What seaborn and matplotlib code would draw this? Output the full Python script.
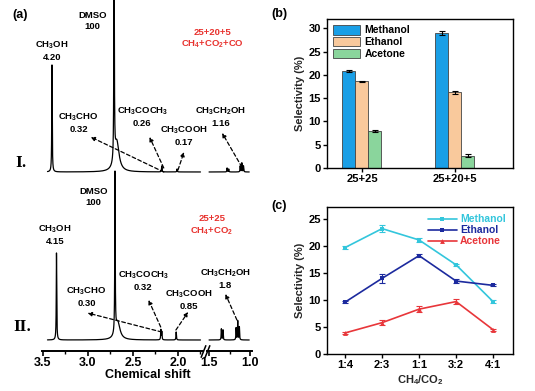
import numpy as np
import pandas as pd
import matplotlib
matplotlib.use('Agg')
import matplotlib.pyplot as plt
import seaborn as sns

# ---------------- panel (a): 1H NMR peaks ----------------
shift_ticks = [3.5, 3.0, 2.5, 2.0, 1.5, 1.0]
compounds = ['CH$_3$OH', 'CH$_3$CHO', 'CH$_3$COCH$_3$', 'CH$_3$COOH', 'CH$_3$CH$_2$OH']
integ_I = ['4.20', '0.32', '0.26', '0.17', '1.16']
integ_II = ['4.15', '0.30', '0.32', '0.85', '1.8']
gas_I = '25+20+5\nCH$_4$+CO$_2$+CO'
gas_II = '25+25\nCH$_4$+CO$_2$'

# peak position (ppm), height, half width
peaks_I_ppm = [3.40, 2.71, 2.68, 2.18, 2.01, 1.28, 1.26, 1.12, 1.10, 1.08]
peaks_I_h = [107, 260, 30, 6, 3, 4, 3, 6, 9, 6]
peaks_I_w = [0.003, 0.003, 0.03, 0.003, 0.003, 0.003, 0.003, 0.003, 0.003, 0.003]
peaks_II_ppm = [3.35, 2.70, 2.67, 2.19, 2.18, 2.02, 1.35, 1.33, 1.17, 1.15, 1.13]
peaks_II_h = [87, 160, 18, 10, 8, 8, 11, 10, 12, 19, 13]
peaks_II_w = [0.003, 0.003, 0.03, 0.003, 0.003, 0.003, 0.003, 0.003, 0.003, 0.003, 0.003]
base_I, base_II = 179, 11

# ---------------- panel (b): selectivity by feed ----------------
conditions = ['25+25', '25+20+5']
products = ['Methanol', 'Ethanol', 'Acetone']
sel_methanol = [20.8, 29.0]
sel_ethanol = [18.6, 16.3]
sel_acetone = [7.9, 2.6]
err_methanol = [0.15, 0.4]
err_ethanol = [0.12, 0.3]
err_acetone = [0.2, 0.3]

# ---------------- panel (c): selectivity vs CH4/CO2 ----------------
ratios = ['1:4', '2:3', '1:1', '3:2', '4:1']
ratio_methanol = [19.7, 23.2, 21.1, 16.5, 9.7]
ratio_ethanol = [9.6, 14.0, 18.2, 13.5, 12.7]
ratio_acetone = [3.9, 5.8, 8.3, 9.7, 4.5]
rerr_methanol = [0.3, 0.6, 0.4, 0.2, 0.2]
rerr_ethanol = [0.2, 0.8, 0.3, 0.4, 0.2]
rerr_acetone = [0.2, 0.4, 0.6, 0.5, 0.2]

sns.set_theme(style='ticks')
plt.rcParams.update({
    'font.family': ['Liberation Sans', 'DejaVu Sans'],
    'font.weight': 'bold',
    'axes.labelweight': 'bold',
    'mathtext.fontset': 'custom',
    'mathtext.rm': 'Liberation Sans:bold',
    'mathtext.it': 'Liberation Sans:bold',
    'mathtext.bf': 'Liberation Sans:bold',
    'mathtext.default': 'rm',
    'axes.edgecolor': 'black',
    'xtick.color': 'black',
    'ytick.color': 'black',
    'text.color': 'black',
})

W, H = 535, 391
fig = plt.figure(figsize=(W / 100, H / 100), dpi=100)


def box(x0, y0, x1, y1):
    return [x0 / W, 1 - y1 / H, (x1 - x0) / W, (y1 - y0) / H]


def spectrum(grid, pos, hts, wid):
    y = np.zeros_like(grid)
    for p, h, w in zip(pos, hts, wid):
        y += h * w ** 2 / ((grid - p) ** 2 + w ** 2)
    return y


# ---- (a) broken chemical shift axis ----
axL = fig.add_axes(box(42, 0, 203, 351))
axR = fig.add_axes(box(207, 0, 252, 351))
gridL = np.linspace(3.45, 1.75, 20000)
gridR = np.linspace(1.50, 1.01, 6000)
for ax, grid in [(axL, gridL), (axR, gridR)]:
    ax.plot(grid, base_I + spectrum(grid, peaks_I_ppm, peaks_I_h, peaks_I_w), color='black', lw=0.9)
    ax.plot(grid, base_II + spectrum(grid, peaks_II_ppm, peaks_II_h, peaks_II_w), color='black', lw=0.9)
    ax.set_ylim(0, 351)
    ax.set_yticks([])
    for s in ['top', 'left', 'right']:
        ax.spines[s].set_visible(False)
    ax.spines['bottom'].set_linewidth(1.4)
    ax.tick_params(axis='x', which='major', direction='out', length=3.5, width=1.2, labelsize=9, pad=0.5)
    ax.tick_params(axis='x', which='minor', direction='out', length=2, width=1)
    ax.patch.set_alpha(0)
axL.set_xlim(3.511, 1.722)
axR.set_xlim(1.525, 0.976)
axL.set_xticks([t for t in shift_ticks if t > 1.7])
axR.set_xticks([t for t in shift_ticks if t < 1.7])
axL.set_xticks(np.arange(3.5, 1.7, -0.25), minor=True)
axR.set_xticks([1.5, 1.25, 1.0], minor=True)
axL.set_xticklabels([f'{t:.1f}' for t in axL.get_xticks()], fontweight='bold')
axR.set_xticklabels([f'{t:.1f}' for t in axR.get_xticks()], fontweight='bold')
fig.text(148 / W, 1 - 375.5 / H, 'Chemical shift', ha='center', va='center', fontsize=9, fontweight='bold')
for ax, xe in [(axL, 1), (axR, 0)]:
    ax.plot([xe], [0], transform=ax.transAxes, marker=[(-0.4, -1), (0.4, 1)], markersize=9,
            mew=1.1, color='black', clip_on=False, ls='none')

tfs = 6.8
lab_kw = dict(ha='center', va='center', fontsize=tfs, fontweight='bold', linespacing=1.25)
arr_kw = dict(arrowstyle='-|>', color='black', lw=0.9, ls=(0, (3, 2)), mutation_scale=6, shrinkA=0, shrinkB=0)

# spectrum I
axL.text(3.40, 300, f'{compounds[0]}\n{integ_I[0]}', **lab_kw)
axL.text(2.95, 330, 'DMSO\n100', **lab_kw)
axR.text(1.455, 312, gas_I, color='#e8322e', **lab_kw)
axL.text(3.105, 228.5, f'{compounds[1]}\n{integ_I[1]}', **lab_kw)
axL.annotate('', xy=(2.97, 214), xytext=(2.158, 179), arrowprops=arr_kw, annotation_clip=False)
axL.text(2.395, 234.5, f'{compounds[2]}\n{integ_I[2]}', **lab_kw)
axL.annotate('', xy=(2.316, 214), xytext=(2.158, 183), arrowprops=arr_kw, annotation_clip=False)
axL.text(1.933, 215, f'{compounds[3]}\n{integ_I[3]}', clip_on=False, **lab_kw)
axL.annotate('', xy=(1.933, 199), xytext=(2.0, 181), arrowprops=arr_kw, annotation_clip=False)
axR.text(1.36, 234.5, f'{compounds[4]}\n{integ_I[4]}', clip_on=False, **lab_kw)
axR.annotate('', xy=(1.34, 218), xytext=(1.10, 184), arrowprops=arr_kw, annotation_clip=False)
axL.text(3.74, 188, 'I.', ha='center', va='center', fontsize=10, fontweight='bold', family='DejaVu Serif')

# spectrum II
axL.text(3.365, 116.5, f'{compounds[0]}\n{integ_II[0]}', **lab_kw)
axL.text(2.936, 154, 'DMSO\n100', **lab_kw)
axR.text(1.466, 125.5, gas_II, color='#e8322e', **lab_kw)
axL.text(3.015, 54.5, f'{compounds[1]}\n{integ_II[1]}', **lab_kw)
axL.annotate('', xy=(3.004, 38), xytext=(2.181, 19), arrowprops=arr_kw, annotation_clip=False)
axL.text(2.384, 70, f'{compounds[2]}\n{integ_II[2]}', **lab_kw)
axL.annotate('', xy=(2.327, 51), xytext=(2.192, 24), arrowprops=arr_kw, annotation_clip=False)
axL.text(1.875, 51, f'{compounds[3]}\n{integ_II[3]}', clip_on=False, **lab_kw)
axL.annotate('', xy=(1.887, 39), xytext=(2.023, 21), arrowprops=arr_kw, annotation_clip=False)
axR.text(1.30, 72, f'{compounds[4]}\n{integ_II[4]}', clip_on=False, **lab_kw)
axR.annotate('', xy=(1.30, 57), xytext=(1.16, 31), arrowprops=arr_kw, annotation_clip=False)
axL.text(3.73, 24, 'II.', ha='center', va='center', fontsize=10, fontweight='bold', family='DejaVu Serif')
fig.text(20 / W, 1 - 15 / H, '(a)', ha='center', va='center', fontsize=9, fontweight='bold')

# ---- (b) bars ----
bar_colors = ['#1a9fe6', '#f9c99c', '#8ad59c']
dfb = pd.DataFrame({
    'condition': conditions * 3,
    'product': np.repeat(products, len(conditions)),
    'sel': sel_methanol + sel_ethanol + sel_acetone,
    'err': err_methanol + err_ethanol + err_acetone,
})
axb = fig.add_axes(box(327, 19, 513, 168))
sns.barplot(data=dfb, x='condition', y='sel', hue='product', palette=bar_colors, width=0.42,
            edgecolor='#444444', linewidth=0.6, saturation=1, errorbar=None, ax=axb)
for cont, prod in zip(axb.containers, products):
    xs = [p.get_x() + p.get_width() / 2 for p in cont]
    sub = dfb[dfb['product'] == prod]
    axb.errorbar(xs, sub['sel'], yerr=sub['err'], fmt='none', ecolor='black', elinewidth=0.8, capsize=2, capthick=0.8)
axb.set_xlim(-0.376, 1.624)
axb.set_ylim(0, 32)
axb.set_yticks(range(0, 31, 5))
axb.set_xlabel('')
axb.set_ylabel('Selectivity (%)', fontsize=8, fontweight='bold', labelpad=2)
axb.legend(loc='upper left', frameon=False, fontsize=7.5, handlelength=2.6, handleheight=1.0,
           borderaxespad=0.2, labelspacing=0.15, handletextpad=0.4)

# ---- (c) lines ----
line_colors = ['#33c6dc', '#1c2a9e', '#e8363a']
dfc = pd.DataFrame({
    'ratio': ratios * 3,
    'product': np.repeat(products, len(ratios)),
    'sel': ratio_methanol + ratio_ethanol + ratio_acetone,
    'err': rerr_methanol + rerr_ethanol + rerr_acetone,
})
axc = fig.add_axes(box(327, 207, 513, 354))
sns.lineplot(data=dfc, x='ratio', y='sel', hue='product', style='product', palette=line_colors,
             markers={'Methanol': 's', 'Ethanol': 's', 'Acetone': '^'}, dashes=False, markersize=3.5,
             markeredgewidth=0, lw=1.2, sort=False, ax=axc)
for prod, col in zip(products, line_colors):
    sub = dfc[dfc['product'] == prod]
    axc.errorbar(range(len(ratios)), sub['sel'], yerr=sub['err'], fmt='none', ecolor=col,
                 elinewidth=0.8, capsize=2, capthick=0.8)
axc.set_xlim(-0.49, 4.54)
axc.set_ylim(0, 27.2)
axc.set_yticks(range(0, 26, 5))
axc.set_xlabel('CH$_4$/CO$_2$', fontsize=8, fontweight='bold', labelpad=2)
axc.set_ylabel('Selectivity (%)', fontsize=8, fontweight='bold', labelpad=2)
leg = axc.legend(loc='upper right', frameon=False, fontsize=7.5, handlelength=2.8,
                 borderaxespad=0.3, labelspacing=0.1, handletextpad=0.3)
for txt, col in zip(leg.get_texts(), line_colors):
    txt.set_color(col)

for ax in [axb, axc]:
    for s in ax.spines.values():
        s.set_linewidth(1.0)
    ax.tick_params(direction='out', length=3, width=1, labelsize=8, pad=1.5)
    for lab in ax.get_xticklabels() + ax.get_yticklabels():
        lab.set_fontweight('bold')

fig.text(279 / W, 1 - 14 / H, '(b)', ha='center', va='center', fontsize=9, fontweight='bold')
fig.text(279 / W, 1 - 206 / H, '(c)', ha='center', va='center', fontsize=9, fontweight='bold')

fig.savefig('out.png', dpi=100)
